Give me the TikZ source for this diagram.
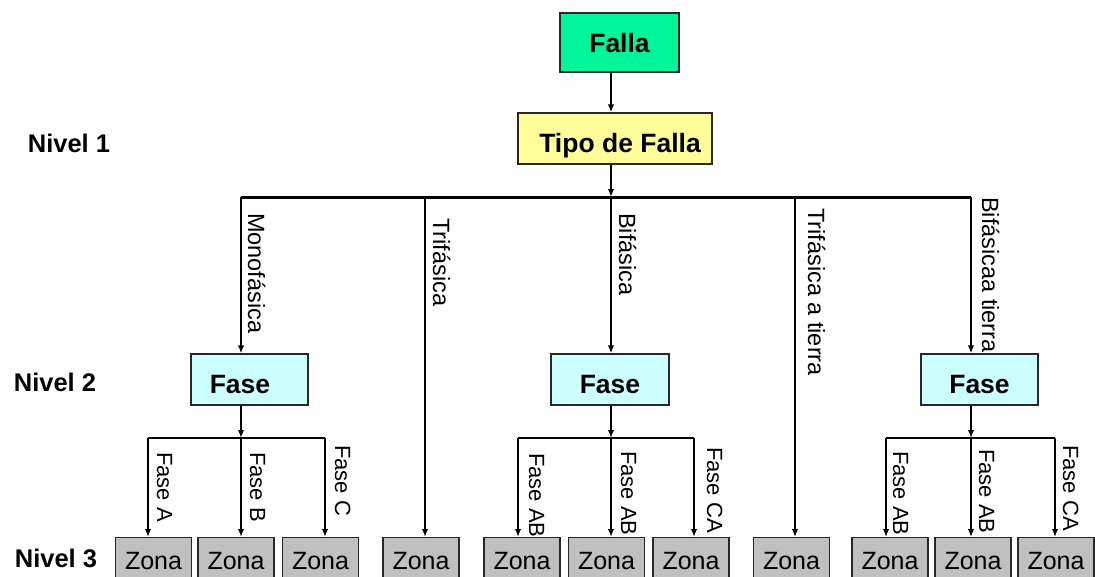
\documentclass[tikz,border=0pt]{standalone}
\usepackage{fontspec}
\setmainfont{Liberation Sans}
\usetikzlibrary{arrows.meta}
\definecolor{fallagreen}{RGB}{0,245,155}
\definecolor{tipoyellow}{RGB}{255,255,153}
\definecolor{fasecyan}{RGB}{204,255,255}
\definecolor{zonagray}{RGB}{192,192,192}
\definecolor{edgegray}{RGB}{40,40,40}
\begin{document}
\begin{tikzpicture}[x=1pt,y=-1pt,
  box/.style={draw=edgegray, line width=1.3pt, inner sep=0pt, text height=19pt, text depth=0pt, font=\fontsize{26.5}{30}\selectfont\bfseries},
  fasebox/.style={box, fill=fasecyan, minimum height=51pt},
  zona/.style={draw=edgegray, line width=1.1pt, fill=zonagray, minimum width=76pt, minimum height=46pt, anchor=north, inner sep=0pt, font=\fontsize{25}{28}\selectfont},
  conn/.style={line width=2.3pt, -{Latex[length=8pt,width=6.5pt]}},
  busline/.style={line width=3pt},
  lbl/.style={rotate=-90, anchor=base west, inner sep=0pt, font=\fontsize{23.5}{28}\selectfont},
  slbl/.style={rotate=-90, anchor=base west, inner sep=0pt, font=\fontsize{22}{26}\selectfont},
  lvl/.style={font=\fontsize{25.5}{28}\selectfont\bfseries, inner sep=0pt}
]
\useasboundingbox (0,0) rectangle (1095,576);
\fill[white] (0,0) rectangle (1095,576);
\clip (0,0) rectangle (1095,576);

% level labels
\node[lvl] (n1) at (69,143) {Nivel 1};
\node[lvl] (n2) at (55,382) {Nivel 2};
\node[lvl] (n3) at (56,558) {Nivel 3};

% top boxes
\node[box, fill=fallagreen, minimum width=119pt, minimum height=59pt] (falla) at (619.5,42.5) {Falla};
\node[box, fill=tipoyellow, minimum width=194pt, minimum height=51pt] (tipo) at (615,138.5) {\raisebox{-4pt}{\hspace*{10pt}Tipo de Falla}};

% main bus
\coordinate (b1) at (241,197);
\coordinate (b2) at (425,197);
\coordinate (b3) at (611,197);
\coordinate (b4) at (795,197);
\coordinate (b5) at (971,197);

% Fase boxes
\node[fasebox, minimum width=117pt] (f1) at (249.5,379.5) {\raisebox{-4pt}{Fase\hspace*{19pt}}};
\node[fasebox, minimum width=118pt] (f2) at (610,379.5) {\raisebox{-4pt}{Fase}};
\node[fasebox, minimum width=117pt] (f3) at (979.5,379.5) {\raisebox{-4pt}{Fase}};

% Zona boxes
\node[zona] (z1) at (153.5,537) {Zona};
\node[zona] (z2) at (236,537) {Zona};
\node[zona] (z3) at (320.5,537) {Zona};
\node[zona] (z4) at (421,537) {Zona};
\node[zona] (z5) at (522,537) {Zona};
\node[zona] (z6) at (606.5,537) {Zona};
\node[zona] (z7) at (691,537) {Zona};
\node[zona] (z8) at (791.5,537) {Zona};
\node[zona] (z9) at (890,537) {Zona};
\node[zona] (z10) at (973,537) {Zona};
\node[zona] (z11) at (1056,537) {Zona};

% sub-bus coordinates
\coordinate (s1a) at (148,438);
\coordinate (s1b) at (241,438);
\coordinate (s1c) at (325,438);
\coordinate (s2a) at (518,438);
\coordinate (s2b) at (611,438);
\coordinate (s2c) at (694,438);
\coordinate (s3a) at (886,438);
\coordinate (s3b) at (971,438);
\coordinate (s3c) at (1055,438);

% top connectors
\draw[conn] (b3 |- falla.south) -- (b3 |- tipo.north);
\draw[conn] (b3 |- tipo.south) -- (b3);
\draw[busline] (b1) -- (b5);

% level 1 -> level 2 / 3
\draw[conn] (b1) -- (b1 |- f1.north);
\draw[conn] (b2) -- (b2 |- z4.north);
\draw[conn] (b3) -- (b3 |- f2.north);
\draw[conn] (b4) -- (b4 |- z8.north);
\draw[conn] (b5) -- (b5 |- f3.north);

% Fase -> sub-buses
\draw[conn] (s1b |- f1.south) -- (s1b);
\draw[conn] (s2b |- f2.south) -- (s2b);
\draw[conn] (s3b |- f3.south) -- (s3b);
\draw[busline, line width=2.5pt] (s1a) -- (s1c);
\draw[busline, line width=2.5pt] (s2a) -- (s2c);
\draw[busline, line width=2.5pt] (s3a) -- (s3c);

% drops to zonas
\draw[conn] (s1a) -- (s1a |- z1.north);
\draw[conn] (s1b) -- (s1b |- z2.north);
\draw[conn] (s1c) -- (s1c |- z3.north);
\draw[conn] (s2a) -- (s2a |- z5.north);
\draw[conn] (s2b) -- (s2b |- z6.north);
\draw[conn] (s2c) -- (s2c |- z7.north);
\draw[conn] (s3a) -- (s3a |- z9.north);
\draw[conn] (s3b) -- (s3b |- z10.north);
\draw[conn] (s3c) -- (s3c |- z11.north);

% branch labels
\node[lbl] (l1) at (248,213) {Monofásica};
\node[lbl] (l2) at (433,218) {Trifásica};
\node[lbl] (l3) at (619,213) {Bifásica};
\node[lbl] (l4) at (808,208) {Trifásica a tierra};
\node[lbl] (l5) at (982,197) {Bifásicaa tierra};

% sub labels
\node[slbl] (m1) at (157,452) {Fase A};
\node[slbl] (m2) at (250,452) {Fase B};
\node[slbl] (m3) at (335,445) {Fase C};
\node[slbl] (m4) at (529,453) {Fase AB};
\node[slbl] (m5) at (621,451) {Fase AB};
\node[slbl] (m6) at (707,447) {Fase CA};
\node[slbl] (m7) at (893,451) {Fase AB};
\node[slbl] (m8) at (979,449) {Fase AB};
\node[slbl] (m9) at (1063,445) {Fase CA};
\end{tikzpicture}
\end{document}
